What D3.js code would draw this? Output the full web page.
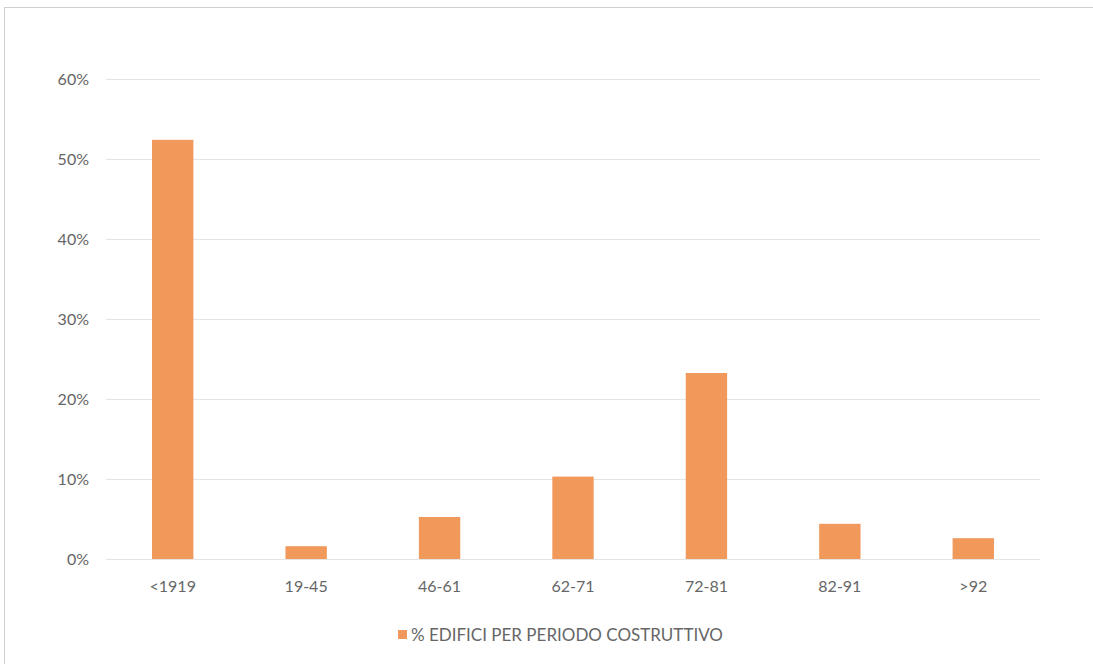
<!DOCTYPE html>
<html>
<head>
<meta charset="utf-8">
<script src="https://cdn.jsdelivr.net/npm/d3@7/dist/d3.min.js"></script>
<style>
  html, body { margin: 0; padding: 0; background: #fff; }
  svg { display: block; }
  text { font-family: Lato, "Open Sans", sans-serif; fill: #666; }
</style>
</head>
<body>
<svg id="chart" width="1093" height="664"></svg>
<script>
// Building stock share by construction period
const periods = ["<1919", "19-45", "46-61", "62-71", "72-81", "82-91", ">92"];
const shares = [0.524, 0.016, 0.0525, 0.103, 0.2325, 0.044, 0.026];
const yTicks = [0, 0.1, 0.2, 0.3, 0.4, 0.5, 0.6];
const seriesName = "% EDIFICI PER PERIODO COSTRUTTIVO";

const barColor = "#F0995A";
const gridColor = "#E4E4E4";
const textColor = "#666";
const labelSize = 16;

const svg = d3.select("#chart");

// chart frame
svg.append("rect")
  .attr("x", 4.5).attr("y", 7.5)
  .attr("width", 1100).attr("height", 660)
  .attr("fill", "none").attr("stroke", "#D0D0D0").attr("stroke-width", 1);

const plot = { left: 106, right: 1040, top: 79, bottom: 559 };

const x = d3.scaleBand()
  .domain(periods)
  .range([plot.left, plot.right])
  .paddingInner(0.69)
  .paddingOuter(0.345);

const y = d3.scaleLinear()
  .domain([0, 0.6])
  .range([plot.bottom, plot.top]);

// horizontal gridlines
svg.append("g")
  .selectAll("line")
  .data(yTicks)
  .join("line")
  .attr("x1", plot.left).attr("x2", plot.right)
  .attr("y1", d => Math.round(y(d)) + 0.5).attr("y2", d => Math.round(y(d)) + 0.5)
  .attr("stroke", gridColor).attr("stroke-width", 1);

// y axis labels
const yAxis = d3.axisLeft(y).tickValues(yTicks).tickFormat(d3.format(".0%")).tickSize(0).tickPadding(0);
const gy = svg.append("g").attr("transform", `translate(${plot.left - 17},0)`).call(yAxis);
gy.select(".domain").remove();
gy.selectAll("text").attr("font-size", labelSize).attr("font-family", null).attr("fill", textColor).attr("dy", "0.35em");

// bars
svg.append("g")
  .selectAll("rect")
  .data(periods.map((p, i) => ({ p, v: shares[i] })))
  .join("rect")
  .attr("x", d => x(d.p))
  .attr("width", x.bandwidth())
  .attr("y", d => y(d.v))
  .attr("height", d => y(0) - y(d.v))
  .attr("fill", barColor);

// x axis labels
const xAxis = d3.axisBottom(x).tickSize(0).tickPadding(0);
const gx = svg.append("g").attr("transform", `translate(0,${plot.bottom + 27})`).call(xAxis);
gx.select(".domain").remove();
gx.selectAll("text").attr("font-size", labelSize).attr("font-family", null).attr("fill", textColor).attr("dy", "0.35em");

// legend
const legend = svg.append("g").attr("transform", "translate(398,635)");
legend.append("rect").attr("x", 0).attr("y", -5).attr("width", 9).attr("height", 9).attr("fill", barColor);
legend.append("text").attr("x", 13).attr("y", 0).attr("dy", "0.35em")
  .attr("font-size", 17).attr("fill", textColor).text(seriesName);
</script>
</body>
</html>
